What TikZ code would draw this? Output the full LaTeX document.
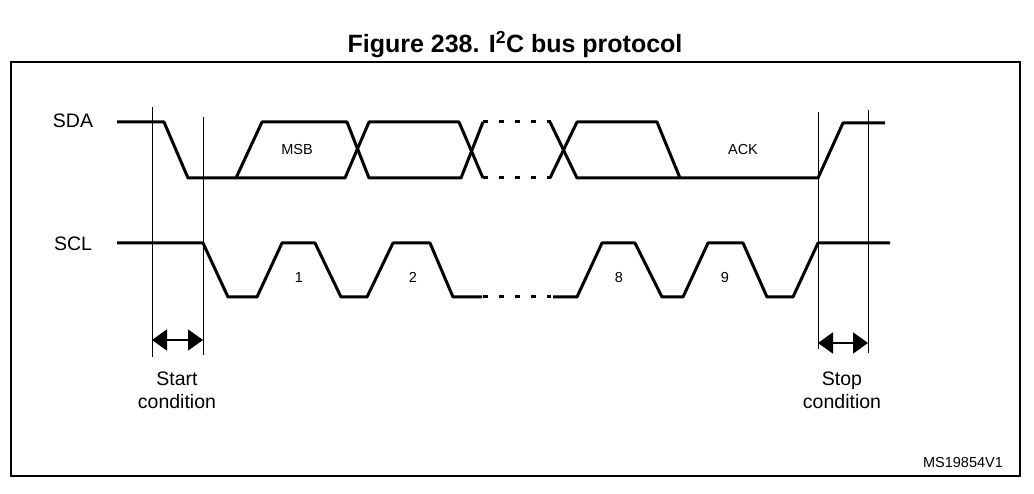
\documentclass[tikz,border=0pt]{standalone}
\usepackage{fontspec}
\setmainfont{Liberation Sans}
\usetikzlibrary{arrows.meta}
\begin{document}
\begin{tikzpicture}[x=1pt,y=-1pt,
  wave/.style={line width=3pt, line join=round},
  dots/.style={line width=3pt, dash pattern=on 5pt off 11pt},
  guide/.style={line width=0.9pt},
  span/.style={line width=2pt, {Triangle[length=15pt,width=21pt]}-{Triangle[length=15pt,width=21pt]}},
  lbl/.style={font=\fontsize{19.5}{22}\selectfont, inner sep=0pt, anchor=base},
  small/.style={font=\fontsize{14.5}{16}\selectfont, inner sep=0pt, anchor=base},
  frame/.style={line width=2.3pt}]
\useasboundingbox (0,0) rectangle (1034,494);
% title and frame
\node[font=\bfseries\fontsize{25}{30}\selectfont, inner sep=0pt, anchor=base] (title) at (515,53) {Figure 238. I\textsuperscript{2}C bus protocol};
\draw[frame] (11,62) rectangle (1020,476);
% signal names
\node[lbl] (sda) at (73,128) {SDA};
\node[lbl] (scl) at (73,251) {SCL};
% SDA waveform
\draw[wave] (117,122) -- (164,122) -- (188,178) -- (345,178) -- (369,122) -- (459,122) -- (483,178);
\draw[wave] (236,178) -- (262,122) -- (347,122) -- (369,178) -- (461,178) -- (483,122);
\draw[dots] (483,122) -- (551,122);
\draw[dots] (483,178) -- (551,178);
\draw[wave] (550,122) -- (577,178) -- (818,178) -- (843,123) -- (885,123);
\draw[wave] (550,178) -- (577,122) -- (657,122) -- (680,178);
\node[small] (msb) at (297,155) {MSB};
\node[small] (ack) at (743,155) {ACK};
% SCL waveform
\draw[wave] (117,243) -- (203,243) -- (228,297) -- (257,297) -- (282,243) -- (315,243) -- (341,297) -- (367,297) -- (393,243) -- (430,243) -- (453,297) -- (482,297);
\draw[dots] (483,297) -- (551,297);
\draw[wave] (553,297) -- (577,297) -- (602,243) -- (635,243) -- (662,297) -- (683,297) -- (708,243) -- (743,243) -- (767,297) -- (793,297) -- (818,243) -- (890,243);
\node[small] (c1) at (299,283) {1};
\node[small] (c2) at (413,283) {2};
\node[small] (c8) at (619,283) {8};
\node[small] (c9) at (725,283) {9};
% start condition
\coordinate (st1t) at (152,107);
\coordinate (st1b) at (152,357);
\coordinate (st2t) at (203,117);
\coordinate (st2b) at (203,355);
\draw[guide] (st1t) -- (st1b);
\draw[guide] (st2t) -- (st2b);
\coordinate (sta) at (152,340);
\coordinate (stb) at (203,340);
\draw[span] (sta) -- (stb);
\node[lbl] (start1) at (177,386) {Start};
\node[lbl] (start2) at (177,409) {condition};
% stop condition
\coordinate (sp1t) at (818,112);
\coordinate (sp1b) at (818,349);
\coordinate (sp2t) at (868,110);
\coordinate (sp2b) at (868,353);
\draw[guide] (sp1t) -- (sp1b);
\draw[guide] (sp2t) -- (sp2b);
\coordinate (spa) at (818,343);
\coordinate (spb) at (868,343);
\draw[span] (spa) -- (spb);
\node[lbl] (stop1) at (842,386) {Stop};
\node[lbl] (stop2) at (842,409) {condition};
% figure id
\node[small] (fid) at (963,467) {MS19854V1};
\end{tikzpicture}
\end{document}
